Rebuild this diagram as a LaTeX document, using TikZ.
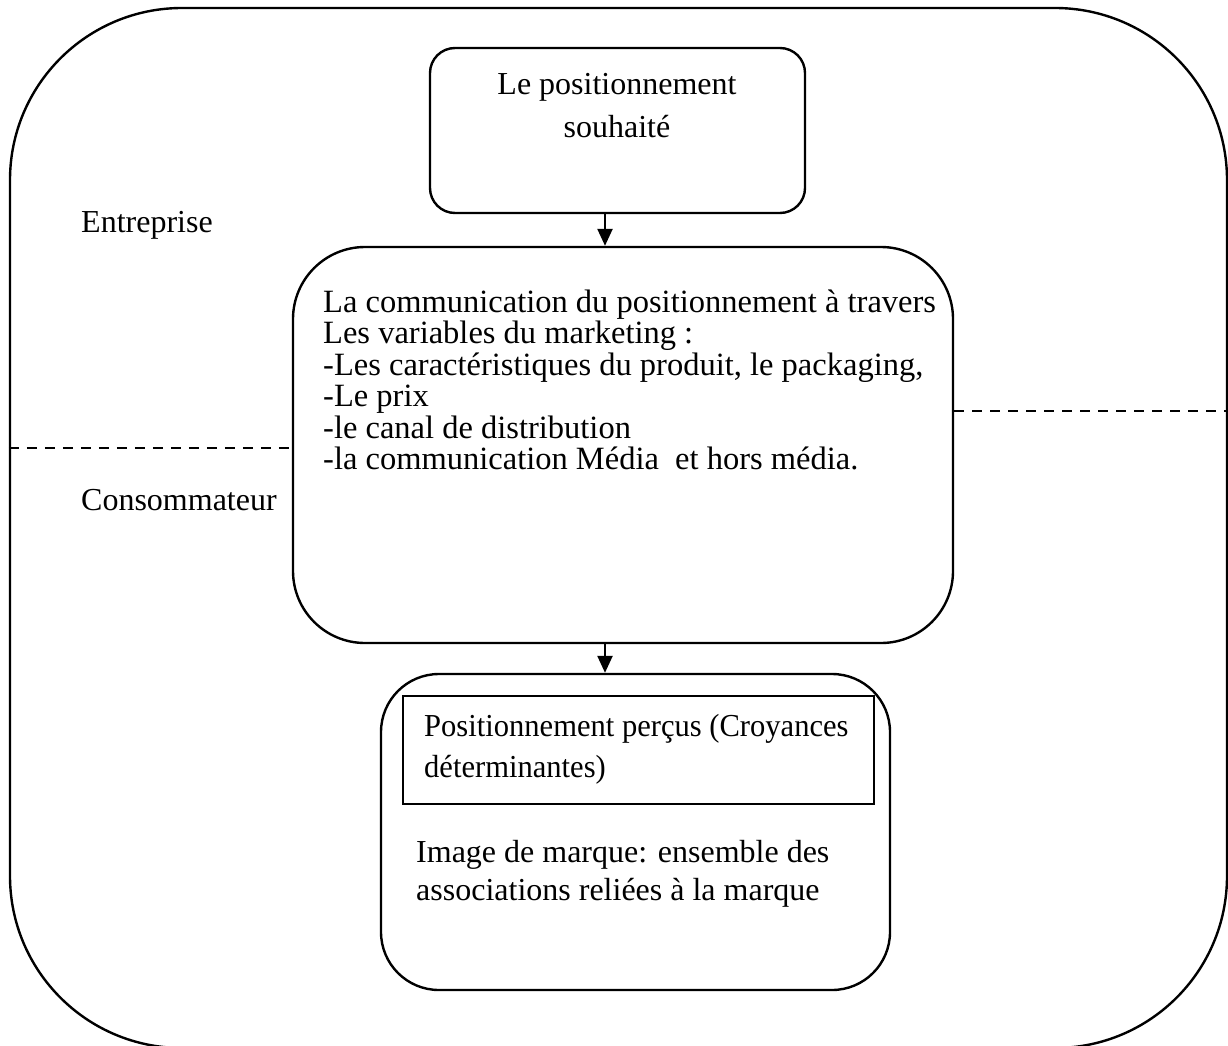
\documentclass[tikz,border=0pt]{standalone}
\usepackage{fontspec}
\usepackage{graphicx}
\setmainfont{Liberation Serif}
\usetikzlibrary{arrows.meta}

% slightly condensed text
\newcommand{\narrowtext}[1]{\scalebox{0.955}[1]{#1}}

\begin{document}
\begin{tikzpicture}[x=1pt,y=-1pt,
  every node/.style={font=\fontsize{32}{38}\selectfont},
  frame/.style={draw, line width=2.4pt, rounded corners=172, inner sep=0pt},
  box/.style={draw, line width=2.4pt, inner sep=0pt},
  innerbox/.style={draw, line width=2pt, inner sep=0pt},
  txt/.style={anchor=base west, inner sep=0pt},
  listtxt/.style={txt, font=\fontsize{32.5}{38}\selectfont},
  ctxt/.style={anchor=base, inner sep=0pt},
  flow/.style={line width=2.4pt, -{Triangle[length=17pt,width=15pt]}},
  split/.style={line width=2.4pt, dash pattern=on 10pt off 8pt}
]
\useasboundingbox (0,0) rectangle (1228,1046);
\clip (0,0) rectangle (1228,1046);

% outer frame, cut by the page edge on the right and at the bottom
\node[frame, minimum width=1217pt, minimum height=1040pt] (frame) at (618.5,528) {};

% boxes
\node[box, rounded corners=25, minimum width=375pt, minimum height=165pt] (top) at (617.5,130.5) {};
\node[box, rounded corners=72, minimum width=660pt, minimum height=396pt] (mid) at (623,445) {};
\node[box, rounded corners=58, minimum width=509pt, minimum height=316pt] (bot) at (635.5,832) {};
\node[innerbox, minimum width=471pt, minimum height=108pt] (perc) at (638.5,750) {};

% texts
\node[ctxt] (t1) at (617,95) {Le positionnement};
\node[ctxt] (t2) at (617,138) {souhaité};

\node[listtxt] (m1) at (323,312) {La communication du positionnement à travers};
\node[listtxt] (m2) at (323,343.5) {Les variables du marketing :};
\node[listtxt] (m3) at (323,375) {-Les caractéristiques du produit, le packaging,};
\node[listtxt] (m4) at (323,406.5) {-Le prix};
\node[listtxt] (m5) at (323,438) {-le canal de distribution};
\node[listtxt] (m6) at (323,469.5) {-la communication Média~ et hors média.};

\node[txt] (p1) at (424,736) {\narrowtext{Positionnement perçus (Croyances}};
\node[txt] (p2) at (424,777) {\narrowtext{déterminantes)}};

\node[txt] (i1) at (416,862) {Image de marque: ensemble des};
\node[txt] (i2) at (416,900) {associations reliées à la marque};

\node[txt] (ent) at (81,232) {Entreprise};
\node[txt] (con) at (81,510) {Consommateur};

% connectors
\coordinate (ax) at (605,0);
\draw[flow] (top.south -| ax) -- (mid.north -| ax);
\draw[flow] (mid.south -| ax) -- (bot.north -| ax);

% dashed separation between company and consumer
\coordinate (yl) at (0,448);
\coordinate (yr) at (0,411);
\draw[split] (frame.west |- yl) -- (mid.west |- yl);
\draw[split] (mid.east |- yr) -- (frame.east |- yr);
\end{tikzpicture}
\end{document}
